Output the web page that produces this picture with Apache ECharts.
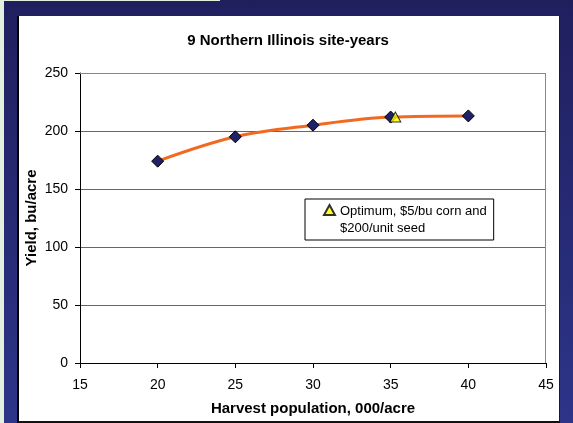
<!DOCTYPE html>
<html>
<head>
<meta charset="utf-8">
<script src="https://cdn.jsdelivr.net/npm/echarts@6/dist/echarts.min.js"></script>
<style>
html,body{margin:0;padding:0;width:573px;height:423px;overflow:hidden;}
body{background:linear-gradient(to bottom,#201f5e,#2d3589);position:relative;}
#strip{position:absolute;left:0;top:0;width:4px;height:423px;background:#e3f0df;}
#strip2{position:absolute;left:0;top:0;width:220px;height:1px;background:#e3f0df;}
#panel{position:absolute;left:17px;top:16px;width:540px;height:405px;background:#fff;border-left:2px solid #000;border-right:1px solid #1a1a2a;border-bottom:2px solid #111;}
#chart{width:540px;height:405px;}
</style>
</head>
<body>
<div id="strip"></div><div id="strip2"></div>
<div id="panel"><div id="chart"></div></div>
<script>
const titleText = '9 Northern Illinois site-years';
const xName = 'Harvest population, 000/acre';
const yName = 'Yield, bu/acre';
const population = [20, 25, 30, 35, 40];
const yieldValues = [174, 195, 205, 212, 213];
const optimumName = 'Optimum, $5/bu corn and\n$200/unit seed';
const optimumPoint = [35.3, 212];

const chart = echarts.init(document.getElementById('chart'));
const font = 'Liberation Sans, Arial, sans-serif';
chart.setOption({
  animation: false,
  textStyle: {fontFamily: font},
  title: {
    text: titleText, left: 269, top: 17.5, textAlign: 'center', padding: 0,
    textStyle: {fontSize: 15, fontWeight: 'bold', color: '#000', fontFamily: font}
  },
  grid: {left: 61, right: 13, top: 57, bottom: 58, outerBoundsMode: 'none', containLabel: false},
  xAxis: {
    type: 'value', min: 15, max: 45, interval: 5,
    name: xName, nameLocation: 'middle', nameGap: 38, nameMoveOverlap: false,
    nameTextStyle: {fontSize: 15, fontWeight: 'bold', color: '#000', fontFamily: font},
    axisLine: {show: true, onZero: false, lineStyle: {color: '#000', width: 1}},
    axisTick: {show: true, length: 5, inside: false, lineStyle: {color: '#000'}},
    axisLabel: {fontSize: 14, color: '#000', margin: 15, fontFamily: font},
    splitLine: {show: false}
  },
  yAxis: {
    type: 'value', min: 0, max: 250, interval: 50,
    name: yName, nameLocation: 'middle', nameGap: 40.5, nameMoveOverlap: false,
    nameTextStyle: {fontSize: 15, fontWeight: 'bold', color: '#000', fontFamily: font},
    axisLine: {show: true, lineStyle: {color: '#000', width: 1}},
    axisTick: {show: true, length: 5, lineStyle: {color: '#000'}},
    axisLabel: {fontSize: 14, color: '#000', margin: 12, fontFamily: font},
    splitLine: {show: true, lineStyle: {color: '#666', width: 1}}
  },
  legend: {
    data: [{name: optimumName, icon: 'path://M5,0L10,9L0,9ZM0,27.3L0,27.3'}],
    left: 286, top: 183,
    orient: 'vertical',
    backgroundColor: '#fff',
    borderColor: '#000', borderWidth: 1,
    padding: [4, 7, 3, 18],
    itemWidth: 11, itemHeight: 30, itemGap: 0,
    symbolKeepAspect: true,
    selectedMode: false,
    textStyle: {fontSize: 13, color: '#000', lineHeight: 17, fontFamily: font}
  },
  series: [
    {
      name: 'Yield', type: 'line', smooth: 0.35,
      data: population.map((p, i) => [p, yieldValues[i]]),
      lineStyle: {color: '#f26a21', width: 3},
      symbol: 'diamond', symbolSize: 12,
      itemStyle: {color: '#1f2266', borderColor: '#000', borderWidth: 1},
      z: 2
    },
    {
      name: optimumName, type: 'scatter',
      data: [optimumPoint],
      symbol: 'triangle', symbolSize: [11, 10],
      itemStyle: {color: '#ffff00', borderColor: '#000', borderWidth: 1},
      z: 3
    }
  ]
});
// plot-area frame: top and right edges in gray
const gr = chart.getModel().getComponent('grid').coordinateSystem.getRect();
chart.setOption({graphic: [{
  type: 'polyline', silent: true, z: 1,
  shape: {points: [[gr.x, gr.y + 0.5], [gr.x + gr.width - 0.5, gr.y + 0.5], [gr.x + gr.width - 0.5, gr.y + gr.height]]},
  style: {stroke: '#888', lineWidth: 1, fill: null}
}]});
</script>
</body>
</html>
